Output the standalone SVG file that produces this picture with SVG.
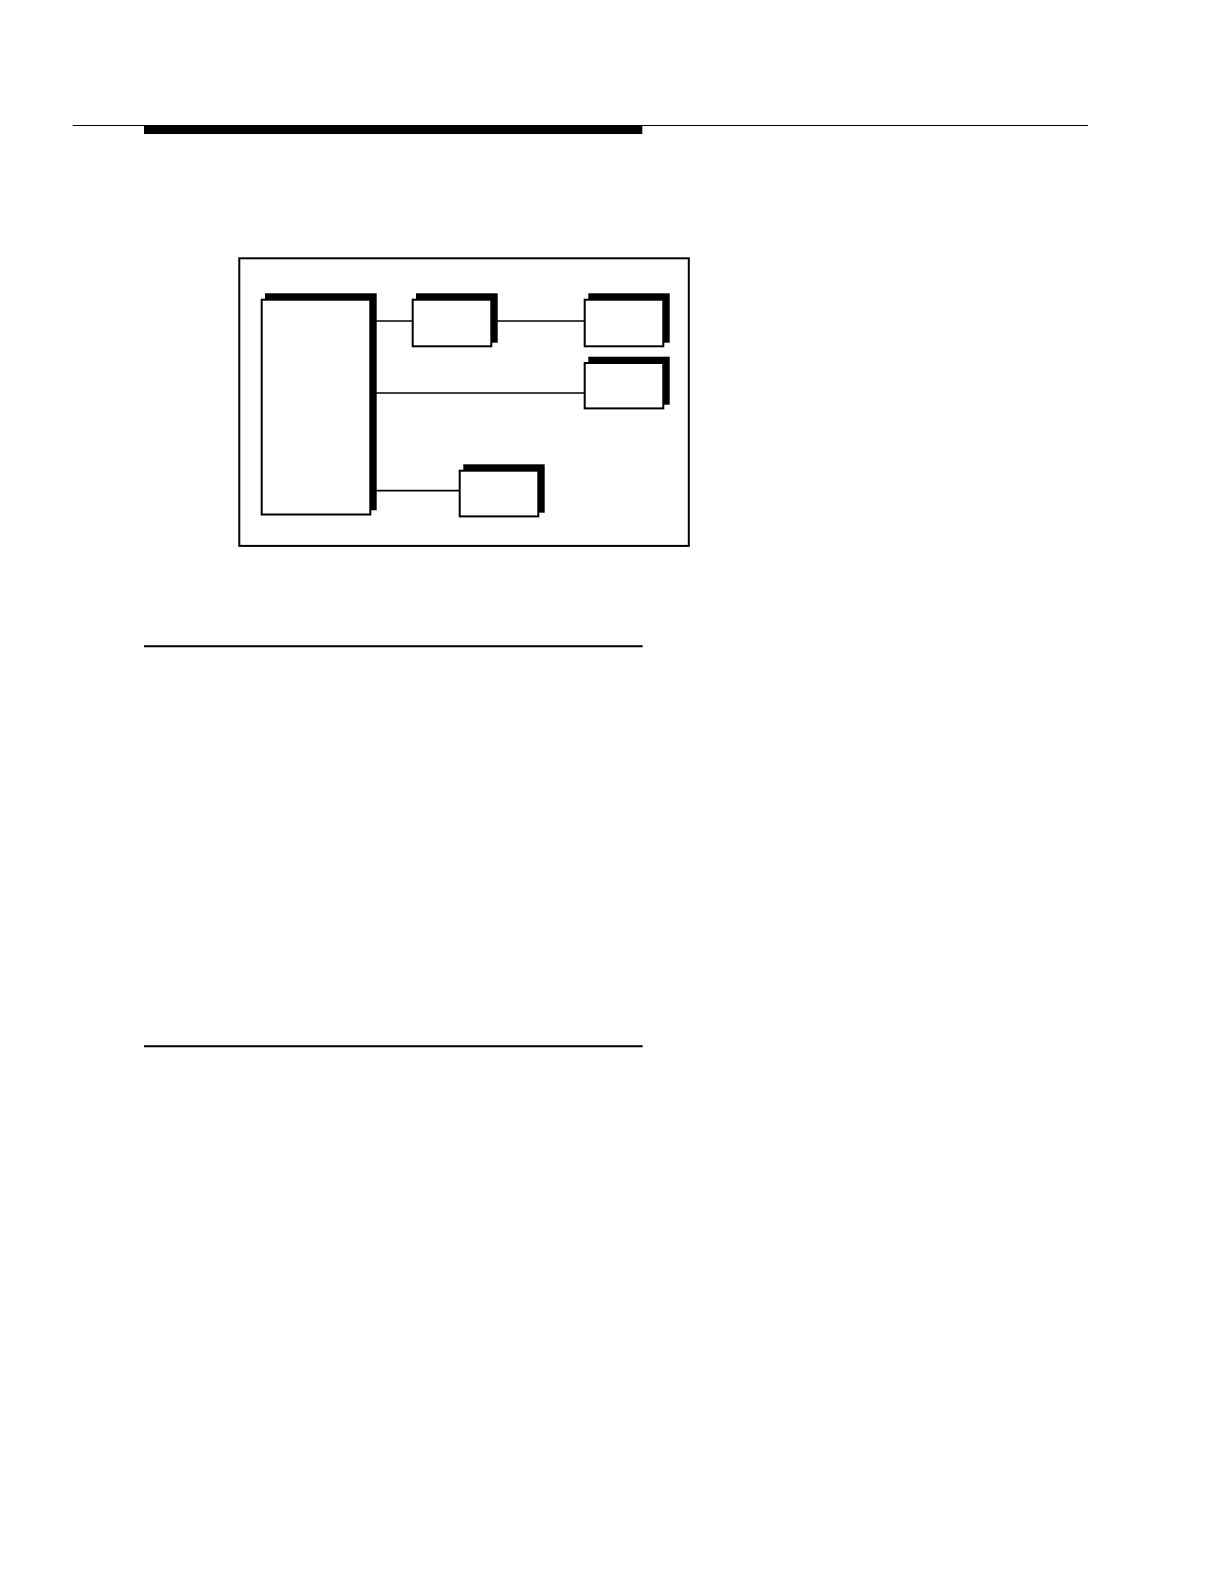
<svg xmlns="http://www.w3.org/2000/svg" width="1224" height="1582" viewBox="0 0 1224 1582">
<style>
.shadow{fill:#000;stroke:none}
.box{fill:#fff;stroke:#000;stroke-width:2}
.conn{stroke:#000;stroke-width:1.6;fill:none}
.rule{stroke:#000;fill:none}
</style>
<rect width="1224" height="1582" fill="#fff"/>
<g id="header">
<line class="rule" x1="72.7" y1="125.5" x2="1088" y2="125.5" stroke-width="1.2"/>
<rect x="144" y="125" width="498.3" height="9" fill="#000"/>
</g>
<g id="frame">
<rect x="239.3" y="258.3" width="449.5" height="287.6" fill="none" stroke="#000" stroke-width="2"/>
</g>
<g id="connectors">
<line class="conn" x1="376" y1="321" x2="412" y2="321"/>
<line class="conn" x1="497" y1="321" x2="584" y2="321"/>
<line class="conn" x1="376" y1="393" x2="584" y2="393"/>
<line class="conn" x1="376" y1="490.6" x2="459" y2="490.6"/>
</g>
<g id="node-main">
<rect class="shadow" x="265" y="293.3" width="111.7" height="217"/>
<rect class="box" x="261.7" y="299.7" width="108.6" height="214.8"/>
</g>
<g id="node-a">
<rect class="shadow" x="416" y="293.3" width="81.7" height="49.4"/>
<rect class="box" x="412.7" y="299.7" width="78.6" height="46.6"/>
</g>
<g id="node-b">
<rect class="shadow" x="588.3" y="293.3" width="81.4" height="49.4"/>
<rect class="box" x="584.7" y="299.7" width="78.6" height="46.6"/>
</g>
<g id="node-c">
<rect class="shadow" x="588.3" y="356.7" width="81.4" height="48"/>
<rect class="box" x="584.7" y="363" width="78.6" height="45.4"/>
</g>
<g id="node-d">
<rect class="shadow" x="463.3" y="464.3" width="81.4" height="48.4"/>
<rect class="box" x="459.7" y="470.7" width="78.6" height="45.7"/>
</g>
<g id="rules">
<line class="rule" x1="144" y1="646.3" x2="642.7" y2="646.3" stroke-width="2"/>
<line class="rule" x1="144" y1="1046.2" x2="642.7" y2="1046.2" stroke-width="2"/>
</g>
</svg>
